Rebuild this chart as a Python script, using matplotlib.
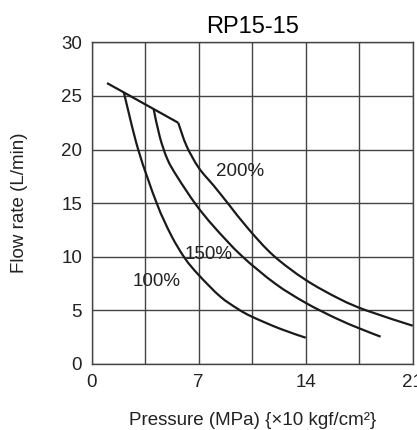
import numpy as np
import matplotlib
matplotlib.use("Agg")
import matplotlib.pyplot as plt
from matplotlib.path import Path
from matplotlib.patches import PathPatch

plt.rcParams['font.family'] = ['Liberation Sans', 'DejaVu Sans']

# shared top line (max flow before the curves drop)
top_x = [1.0, 2.1, 4.05, 5.66]
top_y = [26.2, 25.33, 23.78, 22.5]

# 100% curve
p100_x = [2.1, 3.04, 4.25, 5.2, 6.1, 7.0, 8.4, 9.6, 10.5, 12.3, 14.0]
p100_y = [25.33, 20.0, 15.0, 12.0, 9.85, 8.3, 6.3, 5.1, 4.4, 3.3, 2.45]

# 150% curve
p150_x = [4.05, 4.45, 4.95, 5.6, 6.8, 8.0, 9.8, 12.0, 14.0, 16.0, 17.55, 18.9]
p150_y = [23.78, 21.2, 19.1, 17.45, 14.9, 12.8, 10.1, 7.5, 5.7, 4.25, 3.3, 2.55]

# 200% curve
p200_x = [5.66, 6.2, 7.0, 8.0, 8.9, 10.25, 11.9, 14.0, 16.24, 18.0, 21.0]
p200_y = [22.5, 20.35, 18.3, 16.6, 15.0, 12.6, 10.1, 7.84, 6.05, 4.98, 3.57]

labels = ["100%", "150%", "200%"]
label_pos = [(4.23, 7.7), (7.67, 10.2), (9.71, 18.0)]


def smooth_path(xs, ys):
    # catmull-rom through the read points, drawn as cubic beziers
    pts = np.column_stack([xs, ys])
    verts = [pts[0]]
    codes = [Path.MOVETO]
    n = len(pts)
    for i in range(n - 1):
        p0 = pts[i - 1] if i > 0 else pts[i]
        p1 = pts[i]
        p2 = pts[i + 1]
        p3 = pts[i + 2] if i + 2 < n else pts[i + 1]
        c1 = p1 + (p2 - p0) / 6.0
        c2 = p2 - (p3 - p1) / 6.0
        verts += [c1, c2, p2]
        codes += [Path.CURVE4] * 3
    return Path(verts, codes)


fig = plt.figure(figsize=(4.17, 4.30), dpi=100)
ax = fig.add_axes([0.22, 0.1535, 0.7697, 0.748])

col = '#1a1a1a'
ax.plot(top_x, top_y, color=col, lw=1.6, solid_capstyle='butt')
for xs, ys in [(p100_x, p100_y), (p150_x, p150_y), (p200_x, p200_y)]:
    ax.add_patch(PathPatch(smooth_path(xs, ys), fill=False, edgecolor=col,
                           lw=1.6, capstyle='butt', zorder=3))

for lab, (lx, ly) in zip(labels, label_pos):
    ax.text(lx, ly, lab, ha='center', va='center', fontsize=13.5, color='#222222')

ax.set_xlim(0, 21)
ax.set_ylim(0, 30)
ax.set_xticks(np.arange(0, 21.1, 3.5))
ax.set_xticklabels(['0', '', '7', '', '14', '', '21'])
ax.set_yticks(np.arange(0, 31, 5))
ax.tick_params(length=0, labelsize=13.5, pad=7, colors='#222222')
ax.grid(True, color='#444444', lw=1.0)
for s in ax.spines.values():
    s.set_color('#444444')
    s.set_linewidth(1.0)

ax.set_title('RP15-15', fontsize=17, pad=7)
ax.set_xlabel('Pressure (MPa) {\u00d710 kgf/cm\u00b2}', fontsize=13.5, labelpad=15, color='#222222')
ax.set_ylabel('Flow rate (L/min)', fontsize=13.5, labelpad=24, color='#222222')

plt.savefig('out.png', dpi=100)
